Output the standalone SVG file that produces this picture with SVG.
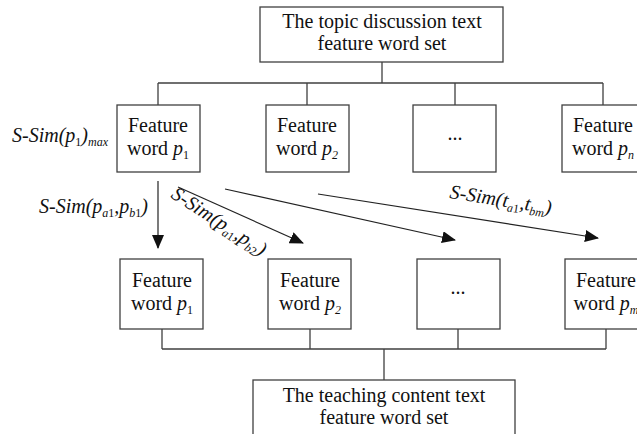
<svg xmlns="http://www.w3.org/2000/svg" width="637" height="434" viewBox="0 0 637 434">
  <defs>
    <marker id="head" markerUnits="userSpaceOnUse" markerWidth="14" markerHeight="12" refX="13" refY="6" orient="auto">
      <path d="M0,0 L14,6 L0,12 Z" fill="#111111"/>
    </marker>
  </defs>

  <rect width="637" height="434" fill="#ffffff"/>

  <!-- tree connectors and similarity arrows -->
  <g id="connectors" fill="none" stroke="#404040" stroke-width="1.3">
    <path d="M382,62 V83 M158,83 H603 M158,83 V105 M307,83 V105 M455,83 V105 M603,83 V105"/>
    <path d="M162,329 V349 M310,329 V349 M458,329 V349 M606,329 V349 M162,349 H606 M384,349 V380"/>
    <g stroke="#222222" stroke-width="1.2" marker-end="url(#head)">
      <line x1="158" y1="181" x2="158" y2="248"/>
      <line x1="178" y1="187" x2="303" y2="243"/>
      <line x1="225" y1="189" x2="455" y2="240"/>
      <line x1="318" y1="194" x2="598" y2="238"/>
    </g>
  </g>

  <!-- edge labels -->
  <g id="labels" fill="#111111">
    <text font-family="Liberation Serif" font-size="20" font-style="italic" x="12" y="142">S-Sim(p<tspan font-size="12" font-style="normal" dy="4">1</tspan><tspan dy="-4">)</tspan><tspan font-size="12" dy="4">max</tspan></text>
    <text font-family="Liberation Serif" font-size="20" font-style="italic" x="39" y="213">S-Sim(p<tspan font-size="12" dy="4">a</tspan><tspan font-size="12" font-style="normal">1</tspan><tspan dy="-4">,p</tspan><tspan font-size="12" dy="4">b</tspan><tspan font-size="12" font-style="normal">1</tspan><tspan dy="-4">)</tspan></text>
    <text font-family="Liberation Serif" font-size="20" font-style="italic" transform="translate(170,197) rotate(33)">S-Sim(p<tspan font-size="12" dy="4">a</tspan><tspan font-size="12" font-style="normal">1</tspan><tspan dy="-4">,p</tspan><tspan font-size="12" dy="4">b</tspan><tspan font-size="12" font-style="normal">2</tspan><tspan dy="-4">)</tspan></text>
    <text font-family="Liberation Serif" font-size="20" font-style="italic" transform="translate(449,198) rotate(9)">S-Sim(t<tspan font-size="12" dy="4">a</tspan><tspan font-size="12" font-style="normal">1</tspan><tspan dy="-4">,t</tspan><tspan font-size="12" dy="4">bm</tspan><tspan dy="-4">)</tspan></text>
  </g>

  <g id="topic-set">
    <rect x="260" y="7" width="243" height="55" fill="#ffffff" stroke="#404040" stroke-width="1.3"/>
    <text font-family="Liberation Serif" font-size="20" text-anchor="middle" fill="#111111" x="382" y="28">The topic discussion text</text>
    <text font-family="Liberation Serif" font-size="20" text-anchor="middle" fill="#111111" x="382" y="50">feature word set</text>
  </g>

  <g id="topic-p1">
    <rect x="117" y="105" width="83" height="67" fill="#ffffff" stroke="#404040" stroke-width="1.3"/>
    <text font-family="Liberation Serif" font-size="20" text-anchor="middle" fill="#111111" x="158" y="132">Feature</text>
    <text font-family="Liberation Serif" font-size="20" text-anchor="middle" fill="#111111" x="158" y="155">word <tspan font-style="italic">p</tspan><tspan font-size="12" dy="4">1</tspan></text>
  </g>
  <g id="topic-p2">
    <rect x="266" y="105" width="83" height="67" fill="#ffffff" stroke="#404040" stroke-width="1.3"/>
    <text font-family="Liberation Serif" font-size="20" text-anchor="middle" fill="#111111" x="307" y="132">Feature</text>
    <text font-family="Liberation Serif" font-size="20" text-anchor="middle" fill="#111111" x="307" y="155">word <tspan font-style="italic">p</tspan><tspan font-size="12" font-style="italic" dy="4">2</tspan></text>
  </g>
  <g id="topic-more">
    <rect x="413" y="105" width="83" height="67" fill="#ffffff" stroke="#404040" stroke-width="1.3"/>
    <text font-family="Liberation Serif" font-size="20" text-anchor="middle" fill="#111111" x="455" y="140">...</text>
  </g>
  <g id="topic-pn">
    <rect x="562" y="105" width="83" height="67" fill="#ffffff" stroke="#404040" stroke-width="1.3"/>
    <text font-family="Liberation Serif" font-size="20" text-anchor="middle" fill="#111111" x="603" y="132">Feature</text>
    <text font-family="Liberation Serif" font-size="20" text-anchor="middle" fill="#111111" x="603" y="155">word <tspan font-style="italic">p</tspan><tspan font-size="12" font-style="italic" dy="4">n</tspan></text>
  </g>

  <g id="teach-p1">
    <rect x="120" y="259" width="83" height="70" fill="#ffffff" stroke="#404040" stroke-width="1.3"/>
    <text font-family="Liberation Serif" font-size="20" text-anchor="middle" fill="#111111" x="162" y="287">Feature</text>
    <text font-family="Liberation Serif" font-size="20" text-anchor="middle" fill="#111111" x="162" y="310">word <tspan font-style="italic">p</tspan><tspan font-size="12" dy="4">1</tspan></text>
  </g>
  <g id="teach-p2">
    <rect x="268" y="259" width="83" height="70" fill="#ffffff" stroke="#404040" stroke-width="1.3"/>
    <text font-family="Liberation Serif" font-size="20" text-anchor="middle" fill="#111111" x="310" y="287">Feature</text>
    <text font-family="Liberation Serif" font-size="20" text-anchor="middle" fill="#111111" x="310" y="310">word <tspan font-style="italic">p</tspan><tspan font-size="12" font-style="italic" dy="4">2</tspan></text>
  </g>
  <g id="teach-more">
    <rect x="417" y="259" width="83" height="70" fill="#ffffff" stroke="#404040" stroke-width="1.3"/>
    <text font-family="Liberation Serif" font-size="20" text-anchor="middle" fill="#111111" x="458" y="294">...</text>
  </g>
  <g id="teach-pm">
    <rect x="565" y="259" width="83" height="70" fill="#ffffff" stroke="#404040" stroke-width="1.3"/>
    <text font-family="Liberation Serif" font-size="20" text-anchor="middle" fill="#111111" x="606" y="287">Feature</text>
    <text font-family="Liberation Serif" font-size="20" text-anchor="middle" fill="#111111" x="606" y="310">word <tspan font-style="italic">p</tspan><tspan font-size="12" font-style="italic" dy="4">m</tspan></text>
  </g>

  <g id="teaching-set">
    <rect x="253" y="380" width="262" height="70" fill="#ffffff" stroke="#404040" stroke-width="1.3"/>
    <text font-family="Liberation Serif" font-size="20" text-anchor="middle" fill="#111111" x="384" y="402">The teaching content text</text>
    <text font-family="Liberation Serif" font-size="20" text-anchor="middle" fill="#111111" x="384" y="424">feature word set</text>
  </g>
</svg>
